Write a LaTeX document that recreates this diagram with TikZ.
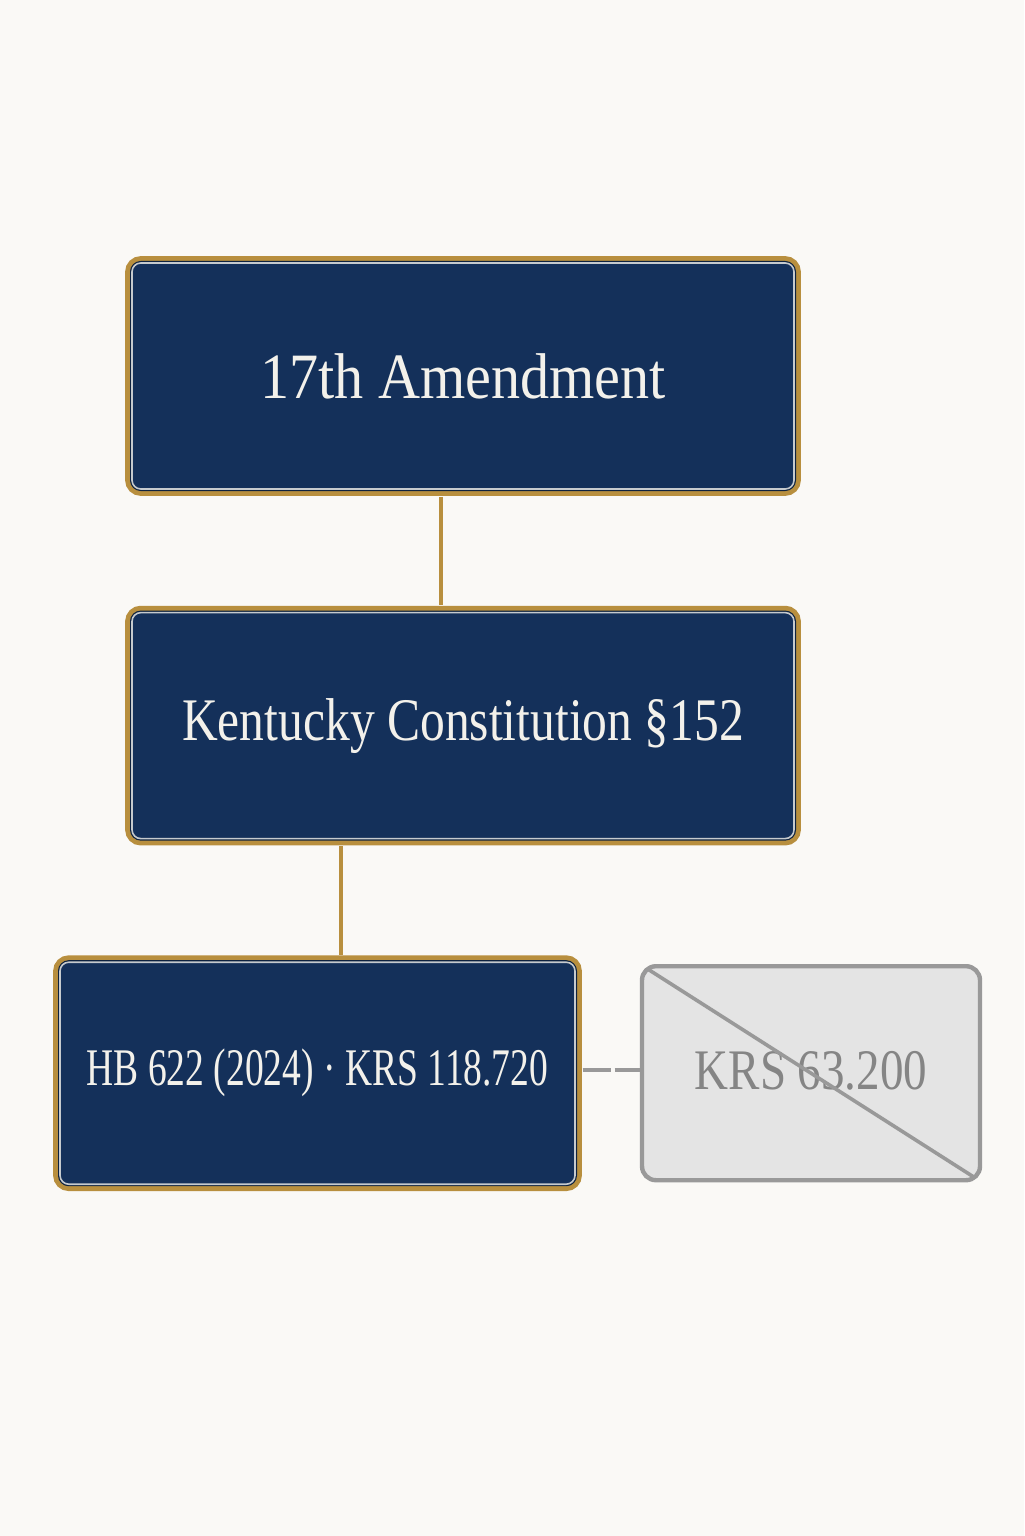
\documentclass[tikz,border=0pt]{standalone}
\usepackage{fontspec}
\usepackage{xcolor}
\usepackage{tikz}
\usetikzlibrary{calc}
\usetikzlibrary{positioning}

\newfontfamily\widefont[FakeStretch=0.9]{Liberation Serif}
\newfontfamily\midfont[FakeStretch=0.82]{Liberation Serif}
\newfontfamily\narrowfont[FakeStretch=0.71]{Liberation Serif}

\definecolor{paper}{HTML}{FAF9F6}
\definecolor{navy}{HTML}{14305A}
\definecolor{gold}{HTML}{B88F3E}
\definecolor{cream}{HTML}{F3F1EB}
\definecolor{ash}{HTML}{E4E4E4}
\definecolor{ashline}{HTML}{999999}
\definecolor{ashtext}{HTML}{858585}

\begin{document}
\begin{tikzpicture}
[
	law/.style	= {rectangle, rounded corners = 0.22cm, fill = navy, draw = cream!80!navy, line width = 0.04cm, text = cream,
			   preaction = {draw = gold, line width = 0.34cm}, preaction = {draw = navy!70!black, line width = 0.1cm},
			   minimum width = 16.55cm, minimum height = 5.65cm, inner sep = 0cm},
	lawlow/.style	= {law, minimum width = 12.875cm, minimum height = 5.55cm},
	gone/.style	= {rectangle, rounded corners = 0.35cm, fill = ash, draw = ashline, line width = 0.11cm, text = ashtext,
			   minimum width = 8.45cm, minimum height = 5.35cm, inner sep = 0cm},
	link/.style	= {draw = gold, line width = 0.09cm, shorten < = 0.17cm, shorten > = 0.17cm},
	gonelink/.style	= {draw = ashline, line width = 0.09cm, dash pattern = on 0.7cm off 0.1cm},
	strike/.style	= {draw = ashline, line width = 0.09cm, shorten < = 0.2cm, shorten > = 0.2cm},
]

	\fill [paper] (0,0) rectangle (25.6,-38.4);
	\useasboundingbox (0,0) rectangle (25.6,-38.4);

	\node (amend) [law] at (11.575,-9.4) {\widefont\fontsize{46}{50}\selectfont 17th Amendment};
	\node (kycon) [law, below = 3.05cm of amend] {\midfont\fontsize{43}{48}\selectfont Kentucky Constitution \S152};
	\node (hb622) [lawlow, below right = 3.05cm and -1.8cm of kycon.south west] {\narrowfont\fontsize{37.6}{42}\selectfont\raisebox{0.12cm}{HB 622 (2024) · KRS 118.720}};
	\node (krs63) [gone, right = 1.6cm of hb622] {\midfont\fontsize{40.8}{45}\selectfont\raisebox{0.12cm}{KRS 63.200}};

	\draw [link] ($(amend.south)+(-0.55,0)$) -- ($(kycon.north)+(-0.55,0)$);
	\coordinate (tap) at ($(kycon.south)+(-3.05,0)$);
	\draw [link] (tap) -- (tap |- hb622.north);
	%
	\coordinate (dashstart) at ($(hb622.east)+(0.17,0.075)$);
	\draw [gonelink] (dashstart) -- (dashstart -| krs63.west);
	\draw [strike] (krs63.north west) -- (krs63.south east);

\end{tikzpicture}
\end{document}
